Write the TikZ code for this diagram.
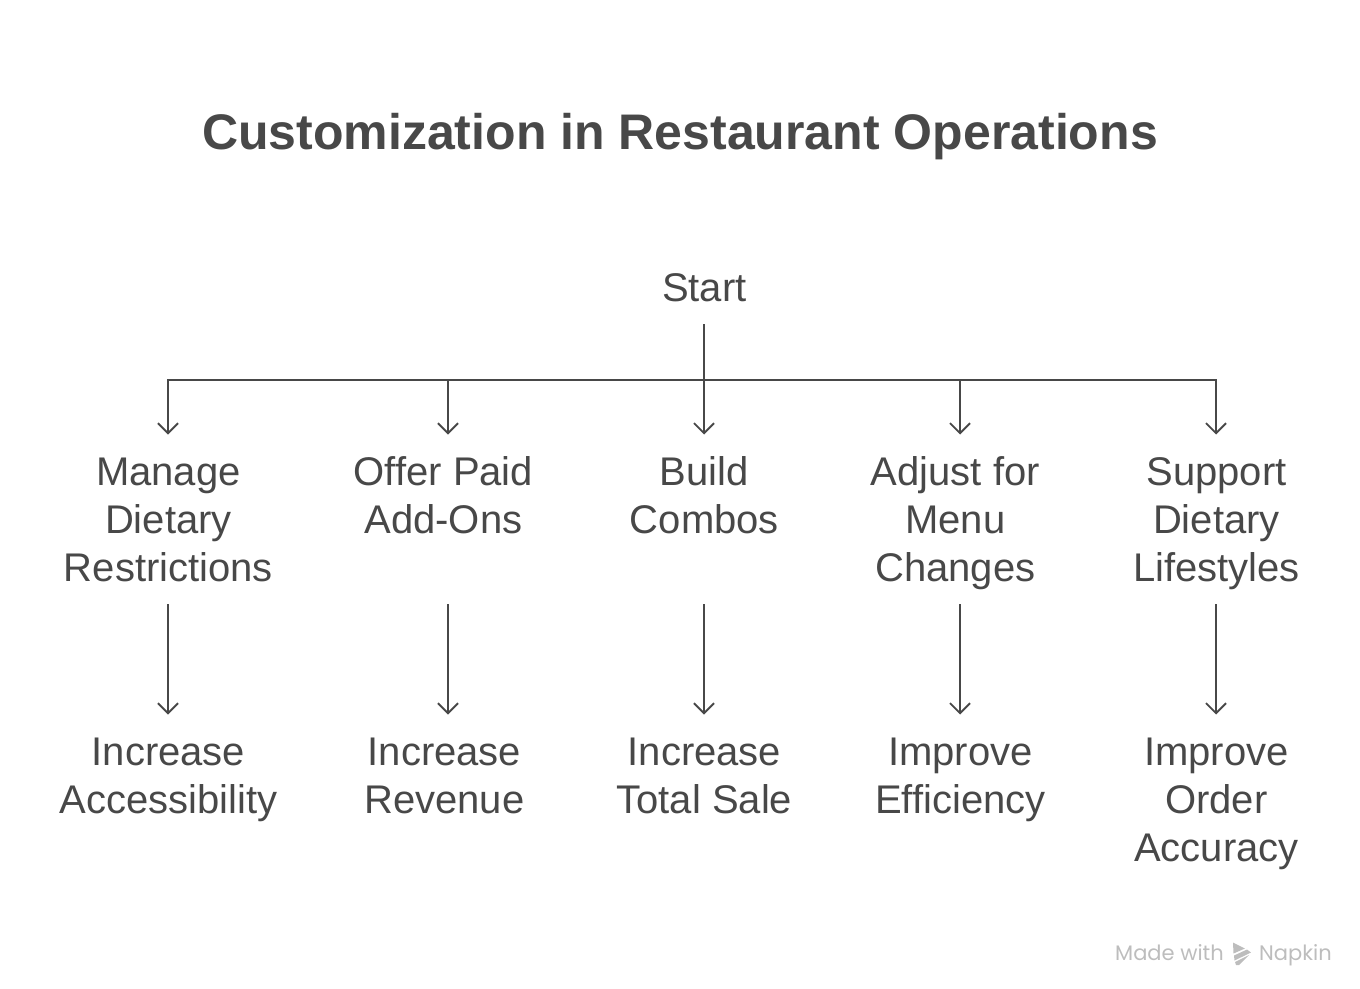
\documentclass[tikz,border=0pt]{standalone}
\usepackage{fontspec}
\setmainfont{Liberation Sans}
\newfontfamily\markfont{Poppins}
\usetikzlibrary{arrows.meta}
\definecolor{ink}{HTML}{484848}
\definecolor{markgrey}{HTML}{BDBDBD}
\newcommand{\cell}[2]{\parbox[t][#1pt][t]{280pt}{\centering\fontsize{40}{48}\selectfont\rule{0pt}{28pt}#2}}
\tikzset{
  x=1pt,y=-1pt,
  label text/.style={inner sep=0pt,outer sep=21pt,text=ink,anchor=north,xshift=.4pt},
  link/.style={draw=ink,line width=1.9pt},
  flow/.style={link,shorten >=1.5pt,-{Straight Barb[length=10pt,width=20pt,line width=1.9pt]}},
}
\begin{document}
\begin{tikzpicture}
\useasboundingbox (0,0) rectangle (1360,988);
\node[inner sep=0pt,text=ink,font=\fontsize{50}{58}\selectfont\bfseries] (title) at (680,137) {Customization in Restaurant Operations};
\node[label text] (start) at (704,252) {\cell{30}{Start}};
\coordinate (c1) at (168,380);
\coordinate (c2) at (448,380);
\coordinate (c3) at (704,380);
\coordinate (c4) at (960,380);
\coordinate (c5) at (1216,380);
\node[label text] (a1) at (168,436) {\cell{126}{Manage\\Dietary\\Restrictions}};
\node[label text] (a2) at (443,436) {\cell{126}{Offer Paid\\Add-Ons}};
\node[label text] (a3) at (704,436) {\cell{126}{Build\\Combos}};
\node[label text] (a4) at (955,436) {\cell{126}{Adjust for\\Menu\\Changes}};
\node[label text] (a5) at (1216,436) {\cell{126}{Support\\Dietary\\Lifestyles}};
\node[label text] (b1) at (168,716) {\cell{126}{Increase\\Accessibility}};
\node[label text] (b2) at (444,716) {\cell{126}{Increase\\Revenue}};
\node[label text] (b3) at (704,716) {\cell{126}{Increase\\Total Sale}};
\node[label text] (b4) at (960,716) {\cell{126}{Improve\\Efficiency}};
\node[label text] (b5) at (1216,716) {\cell{126}{Improve\\Order\\Accuracy}};
\draw[link] (c3 |- start.south) -- (c3);
\draw[link,line cap=rect] (c1) -- (c5);
\foreach \i in {1,...,5}{
  \draw[flow] (c\i) -- (c\i |- a\i.north);
  \draw[flow] (c\i |- a\i.south) -- (c\i |- b\i.north);
}
\node[inner sep=0pt,anchor=base west,text=markgrey,font=\markfont\fontsize{21}{26}\selectfont] (made) at (1115,960) {Made with};
\node[inner sep=0pt,anchor=base west,text=markgrey,font=\markfont\fontsize{21}{26}\selectfont] (napkin) at (1259,960) {Napkin};
\fill[markgrey] (1233,942.5) -- (1245,948.5) -- (1233.5,953.5) -- cycle;
\fill[markgrey] (1234,955.5) -- (1247,949.5) -- (1251,952.5) -- (1234.5,960.5) -- cycle;
\fill[markgrey] (1235,962) -- (1249,955) -- (1239,965) -- (1236,965) -- cycle;
\end{tikzpicture}
\end{document}
